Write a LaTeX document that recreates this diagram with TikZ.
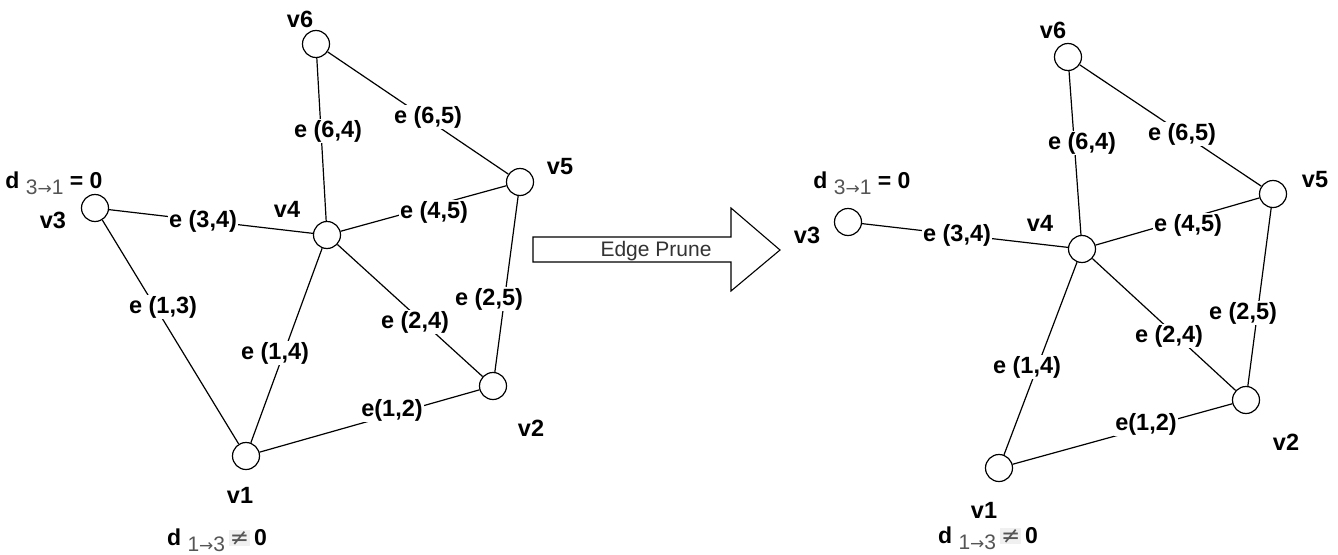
\documentclass[tikz,border=0pt]{standalone}
\usepackage{fontspec}
\setmainfont{Liberation Sans}
\newfontfamily\symfont{DejaVu Sans}
\definecolor{subgray}{HTML}{555555}
\definecolor{hlgray}{HTML}{F0F0F0}
\definecolor{arrowtext}{HTML}{333333}
\newcommand{\dsub}[1]{\raisebox{-6pt}{\fontsize{21}{21}\selectfont\mdseries\color{subgray}#1}}
\newcommand{\arr}{{\symfont\fontsize{17}{17}\selectfont →}}
\begin{document}
\begin{tikzpicture}[x=1pt,y=-1pt,
  vert/.style={circle, draw, line width=1.2pt, minimum size=27pt, inner sep=0pt, fill=white},
  vlab/.style={font=\fontsize{23.5}{23.5}\selectfont\bfseries, inner sep=0pt},
  elab/.style={font=\fontsize{23.5}{23.5}\selectfont\bfseries, fill=white, inner sep=1pt},
  edgeline/.style={line width=1.2pt},
  dlab/.style={font=\fontsize{23}{23}\selectfont\bfseries, inner sep=0pt},
  blockarrow/.style={line width=1.1pt, fill=white}]
\useasboundingbox (0,0) rectangle (1338,554);
% ---------- left graph ----------
\node[vert] (L1) at (246,456) {};
\node[vert] (L2) at (493,386) {};
\node[vert] (L3) at (95,208) {};
\node[vert] (L4) at (327,235) {};
\node[vert] (L5) at (520,182) {};
\node[vert] (L6) at (316,44) {};
\draw[edgeline] (L6) -- (L4);
\draw[edgeline] (L6) -- (L5);
\draw[edgeline] (L3) -- (L4);
\draw[edgeline] (L3) -- (L1);
\draw[edgeline] (L4) -- (L5);
\draw[edgeline] (L4) -- (L2);
\draw[edgeline] (L4) -- (L1);
\draw[edgeline] (L5) -- (L2);
\draw[edgeline] (L1) -- (L2);
\node[elab] (Le64) at (328,131) {e (6,4)};
\node[elab] (Le65) at (428,117) {e (6,5)};
\node[elab] (Le34) at (203,221) {e (3,4)};
\node[elab] (Le13) at (163,307) {e (1,3)};
\node[elab] (Le45) at (434,212) {e (4,5)};
\node[elab] (Le25) at (489,299) {e (2,5)};
\node[elab] (Le24) at (415,322) {e (2,4)};
\node[elab] (Le14) at (275,353) {e (1,4)};
\node[elab] (Le12) at (392,410) {e(1,2)};
\node[vlab] (Lv6) at (300,19) {v6};
\node[vlab] (Lv5) at (560,167) {v5};
\node[vlab] (Lv3) at (53,220) {v3};
\node[vlab] (Lv4) at (287,209) {v4};
\node[vlab] (Lv1) at (240,495) {v1};
\node[vlab] (Lv2) at (531,428) {v2};
\node[dlab] (Ld31) at (54,183) {d \dsub{3\arr1} = 0};
\node[dlab] (Ld13) at (217,540) {d \dsub{1\arr3}\,{\fboxsep=1pt\colorbox{hlgray}{\mdseries\color{subgray}{\symfont ≠}}}\,0};
% ---------- arrow ----------
\draw[blockarrow] (533,237) -- (731,237) -- (731,208) -- (780,250) -- (731,291) -- (731,262) -- (533,262) -- cycle;
\node[font=\fontsize{21}{21}\selectfont, text=arrowtext, inner sep=0pt] (prune) at (656,251) {Edge Prune};
% ---------- right graph ----------
\node[vert] (R1) at (999,468) {};
\node[vert] (R2) at (1246,400) {};
\node[vert] (R3) at (848,222) {};
\node[vert] (R4) at (1082,249) {};
\node[vert] (R5) at (1273,194) {};
\node[vert] (R6) at (1068,57) {};
\draw[edgeline] (R6) -- (R4);
\draw[edgeline] (R6) -- (R5);
\draw[edgeline] (R3) -- (R4);
\draw[edgeline] (R4) -- (R5);
\draw[edgeline] (R4) -- (R2);
\draw[edgeline] (R4) -- (R1);
\draw[edgeline] (R5) -- (R2);
\draw[edgeline] (R1) -- (R2);
\node[elab] (Re64) at (1082,143) {e (6,4)};
\node[elab] (Re65) at (1182,134) {e (6,5)};
\node[elab] (Re34) at (957,235) {e (3,4)};
\node[elab] (Re45) at (1188,225) {e (4,5)};
\node[elab] (Re25) at (1243,313) {e (2,5)};
\node[elab] (Re24) at (1169,336) {e (2,4)};
\node[elab] (Re14) at (1027,367) {e (1,4)};
\node[elab] (Re12) at (1146,424) {e(1,2)};
\node[vlab] (Rv6) at (1053,30) {v6};
\node[vlab] (Rv5) at (1315,180) {v5};
\node[vlab] (Rv3) at (807,235) {v3};
\node[vlab] (Rv4) at (1040,223) {v4};
\node[vlab] (Rv1) at (984,510) {v1};
\node[vlab] (Rv2) at (1286,442) {v2};
\node[dlab] (Rd31) at (862,183) {d \dsub{3\arr1} = 0};
\node[dlab] (Rd13) at (988,538) {d \dsub{1\arr3}\,{\fboxsep=1pt\colorbox{hlgray}{\mdseries\color{subgray}{\symfont ≠}}}\,0};
\end{tikzpicture}
\end{document}
